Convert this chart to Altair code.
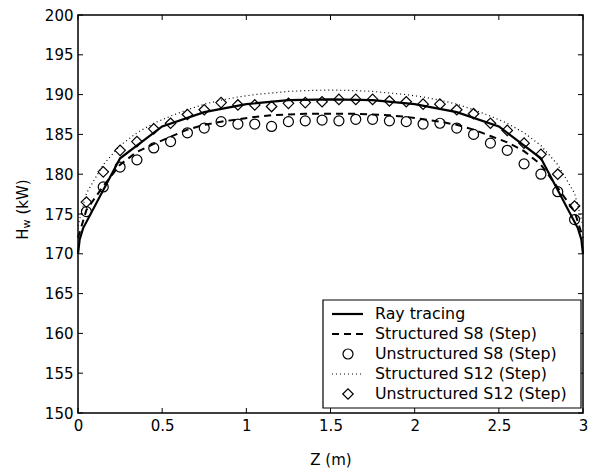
import altair as alt
import pandas as pd

FONT = "DejaVu Sans"

# ---- data ----
x_ticks = [0, 0.5, 1, 1.5, 2, 2.5, 3]
y_ticks = [150, 155, 160, 165, 170, 175, 180, 185, 190, 195, 200]

z_ray = [0, 0.01, 0.03, 0.25, 0.5, 0.75, 1.0, 1.25, 1.5, 1.75, 2.0, 2.25, 2.5, 2.75, 2.97, 2.99, 3.0]
h_ray = [170, 171.8, 173.2, 182, 186, 187.8, 188.8, 189.3, 189.4, 189.3, 188.8, 187.8, 186, 182, 173.2, 171.8, 170]

z_grid = [0.0, 0.05, 0.15, 0.25, 0.35, 0.45, 0.55, 0.65, 0.75, 0.85, 0.95, 1.05, 1.15, 1.25, 1.35, 1.45,
          1.55, 1.65, 1.75, 1.85, 1.95, 2.05, 2.15, 2.25, 2.35, 2.45, 2.55, 2.65, 2.75, 2.85, 2.95, 3.0]
h_s8 = [172.0, 175.5, 178.5, 181.2, 182.8, 183.8, 184.7, 185.6, 186.2, 186.6, 186.9, 187.2, 187.4, 187.5, 187.6, 187.6,
        187.6, 187.6, 187.5, 187.4, 187.2, 186.9, 186.6, 186.2, 185.6, 184.8, 184.0, 182.9, 181.2, 178.3, 175.3, 172.0]
h_s12 = [173.5, 177.6, 181.2, 183.6, 185.2, 186.4, 187.3, 188.1, 188.8, 189.3, 189.7, 190.0, 190.2, 190.4, 190.5, 190.55,
         190.55, 190.5, 190.4, 190.2, 190.0, 189.7, 189.3, 188.8, 188.1, 187.3, 186.4, 185.2, 183.6, 181.2, 177.6, 173.5]

z_mark = [0.05, 0.15, 0.25, 0.35, 0.45, 0.55, 0.65, 0.75, 0.85, 0.95, 1.05, 1.15, 1.25, 1.35, 1.45,
          1.55, 1.65, 1.75, 1.85, 1.95, 2.05, 2.15, 2.25, 2.35, 2.45, 2.55, 2.65, 2.75, 2.85, 2.95]
h_u8 = [175.3, 178.4, 180.9, 181.8, 183.3, 184.1, 185.2, 185.8, 186.6, 186.3, 186.3, 186.0, 186.6, 186.7, 186.8,
        186.7, 186.9, 186.9, 186.7, 186.6, 186.3, 186.4, 185.8, 185.0, 183.9, 183.0, 181.3, 180.0, 177.8, 174.3]
h_u12 = [176.5, 180.3, 183.0, 184.1, 185.7, 186.4, 187.5, 188.1, 189.0, 188.7, 188.7, 188.5, 188.9, 189.0, 189.1,
         189.4, 189.4, 189.4, 189.2, 189.1, 188.8, 188.8, 188.1, 187.6, 186.4, 185.5, 183.9, 182.5, 180.0, 176.0]

labels = ["Ray tracing", "Structured S8 (Step)", "Unstructured S8 (Step)",
          "Structured S12 (Step)", "Unstructured S12 (Step)"]

# ---- layout ----
W, H = 505, 398
XMIN, XMAX, YMIN, YMAX = 0, 3, 150, 200
TICK_PX = 5
tl_x = TICK_PX * (XMAX - XMIN) / W
tl_y = TICK_PX * (YMAX - YMIN) / H


def xenc(field):
    return alt.X(field, type="quantitative",
                 scale=alt.Scale(domain=[XMIN, XMAX], nice=False, zero=False),
                 axis=alt.Axis(values=x_ticks, format="~g", ticks=False, domain=False, grid=False,
                               labelFont=FONT, labelFontSize=15, labelColor="black", labelPadding=5,
                               labelFlush=False, labelOverlap=False, title=None))


def yenc(field):
    return alt.Y(field, type="quantitative",
                 scale=alt.Scale(domain=[YMIN, YMAX], nice=False, zero=False),
                 axis=alt.Axis(values=y_ticks, format="d", ticks=False, domain=False, grid=False,
                               labelFont=FONT, labelFontSize=15, labelColor="black", labelPadding=5,
                               labelFlush=False, labelOverlap=False, title=None))


def line_layer(z, h, width, dash=None):
    df = pd.DataFrame({"z": z, "h": h})
    kw = dict(color="black", strokeWidth=width)
    if dash is not None:
        kw["strokeDash"] = dash
    return alt.Chart(df).mark_line(**kw).encode(x=xenc("z"), y=yenc("h"))


def point_layer(z, h, shape, size):
    df = pd.DataFrame({"z": z, "h": h})
    return alt.Chart(df).mark_point(shape=shape, filled=False, color="black", size=size,
                                    strokeWidth=1.2, opacity=1).encode(x=xenc("z"), y=yenc("h"))


layers = [
    line_layer(z_grid, h_s12, 1.2, [1, 3]),
    line_layer(z_grid, h_s8, 2, [7, 5]),
    line_layer(z_ray, h_ray, 2.2),
    point_layer(z_mark, h_u8, "circle", 100),
    point_layer(z_mark, h_u12, "diamond", 110),
]

# inward ticks on all four sides
bt = pd.DataFrame({"z": x_ticks, "h": [YMIN] * len(x_ticks), "h2": [YMIN + tl_y] * len(x_ticks)})
tt = pd.DataFrame({"z": x_ticks, "h": [YMAX] * len(x_ticks), "h2": [YMAX - tl_y] * len(x_ticks)})
lt = pd.DataFrame({"h": y_ticks, "z": [XMIN] * len(y_ticks), "z2": [XMIN + tl_x] * len(y_ticks)})
rt = pd.DataFrame({"h": y_ticks, "z": [XMAX] * len(y_ticks), "z2": [XMAX - tl_x] * len(y_ticks)})
for df in (bt, tt):
    layers.append(alt.Chart(df).mark_rule(color="black", strokeWidth=1).encode(
        x=xenc("z"), y=yenc("h"), y2="h2:Q"))
for df in (lt, rt):
    layers.append(alt.Chart(df).mark_rule(color="black", strokeWidth=1).encode(
        y=yenc("h"), x=xenc("z"), x2="z2:Q"))

one = pd.DataFrame({"a": [0]})

# legend (drawn by hand, Matlab style)
LX0, LX1, LY0, LY1 = 245, 503, 285, 393
layers.append(alt.Chart(one).mark_rect(fill="white", stroke="black", strokeWidth=1.2).encode(
    x=alt.value(LX0), x2=alt.value(LX1), y=alt.value(LY0), y2=alt.value(LY1)))
row_y = [299, 319, 339, 359, 379]
SX0, SX1, SXC, TX = 254, 285, 270, 297
LFS = 15.8
layers.append(alt.Chart(one).mark_rule(color="black", strokeWidth=2.2).encode(
    x=alt.value(SX0), x2=alt.value(SX1), y=alt.value(row_y[0])))
layers.append(alt.Chart(one).mark_rule(color="black", strokeWidth=2, strokeDash=[7, 5]).encode(
    x=alt.value(SX0), x2=alt.value(SX1), y=alt.value(row_y[1])))
layers.append(alt.Chart(one).mark_point(shape="circle", filled=False, color="black", size=100,
                                        strokeWidth=1.2, opacity=1).encode(
    x=alt.value(SXC), y=alt.value(row_y[2])))
layers.append(alt.Chart(one).mark_rule(color="black", strokeWidth=1.2, strokeDash=[1, 3]).encode(
    x=alt.value(SX0), x2=alt.value(SX1), y=alt.value(row_y[3])))
layers.append(alt.Chart(one).mark_point(shape="diamond", filled=False, color="black", size=110,
                                        strokeWidth=1.2, opacity=1).encode(
    x=alt.value(SXC), y=alt.value(row_y[4])))
for lab, yy in zip(labels, row_y):
    layers.append(alt.Chart(one).mark_text(align="left", baseline="middle", font=FONT,
                                           fontSize=LFS, color="black").encode(
        x=alt.value(TX), y=alt.value(yy), text=alt.value(lab)))

# axis titles
layers.append(alt.Chart(one).mark_text(align="center", baseline="middle", font=FONT,
                                       fontSize=15, color="black").encode(
    x=alt.value(253), y=alt.value(445), text=alt.value("Z (m)")))
layers.append(alt.Chart(one).mark_text(align="center", baseline="middle", font=FONT,
                                       fontSize=15, color="black", angle=270).encode(
    x=alt.value(-55), y=alt.value(219), text=alt.value("H")))
layers.append(alt.Chart(one).mark_text(align="center", baseline="middle", font=FONT,
                                       fontSize=11, color="black", angle=270).encode(
    x=alt.value(-51), y=alt.value(209), text=alt.value("w")))
layers.append(alt.Chart(one).mark_text(align="center", baseline="middle", font=FONT,
                                       fontSize=15, color="black", angle=270).encode(
    x=alt.value(-55), y=alt.value(182), text=alt.value("(kW)")))

chart = alt.layer(*layers).properties(
    width=W, height=H,
    autosize=alt.AutoSizeParams(type="none"),
    padding={"left": 78, "top": 15, "right": 15, "bottom": 62},
    background="white",
).configure_view(stroke="black", strokeWidth=1.5)

chart.save("out.html", embed_options={"renderer": "svg", "actions": False})
